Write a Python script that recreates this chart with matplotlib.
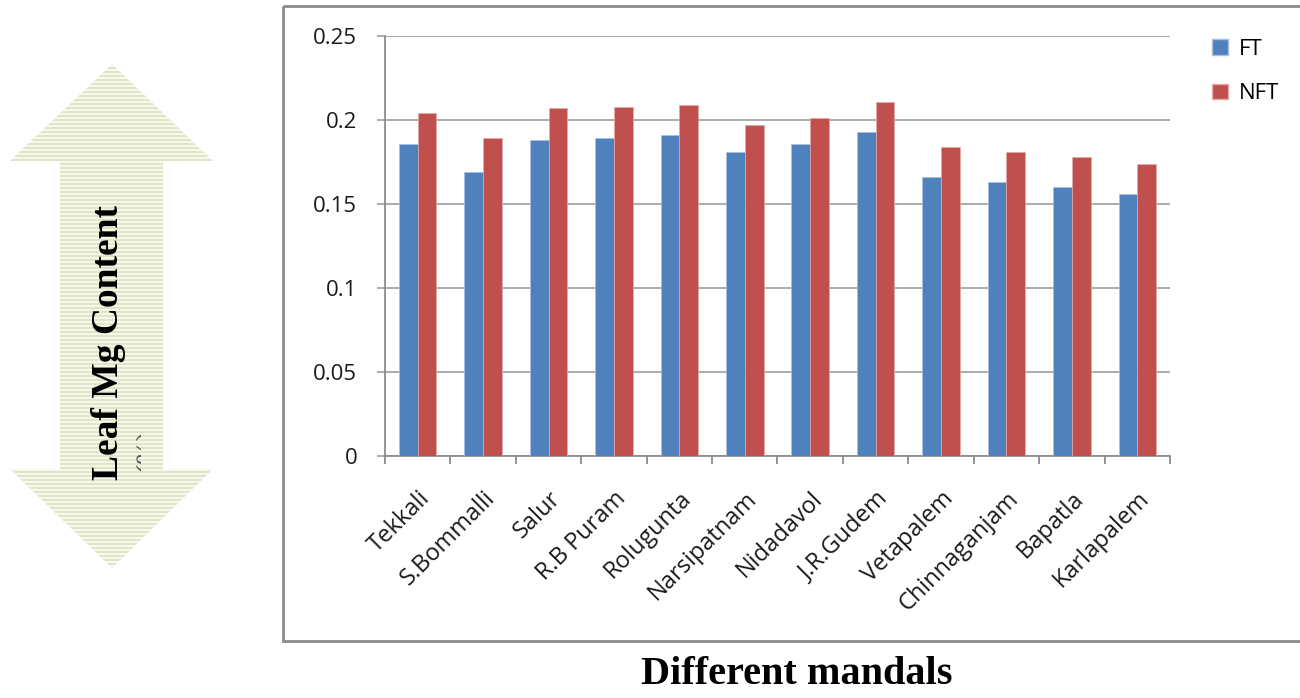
import numpy as np
import matplotlib.pyplot as plt
from matplotlib.patches import Polygon, Rectangle, Patch, PathPatch
from matplotlib.textpath import TextPath
from matplotlib.font_manager import FontProperties
from matplotlib.transforms import Affine2D, ScaledTranslation

mandals = ['Tekkali', 'S.Bommalli', 'Salur', 'R.B Puram', 'Rolugunta', 'Narsipatnam',
           'Nidadavol', 'J.R.Gudem', 'Vetapalem', 'Chinnaganjam', 'Bapatla', 'Karlapalem']
ft = [0.186, 0.169, 0.188, 0.189, 0.191, 0.181, 0.186, 0.193, 0.166, 0.163, 0.160, 0.156]
nft = [0.204, 0.189, 0.207, 0.208, 0.209, 0.197, 0.201, 0.211, 0.184, 0.181, 0.178, 0.174]
yticks = [0, 0.05, 0.1, 0.15, 0.2, 0.25]
ytick_labels = ['0', '0.05', '0.1', '0.15', '0.2', '0.25']

W, H = 1300, 698
fig = plt.figure(figsize=(W / 100, H / 100), dpi=100)

# overlay in pixel units for the frame, arrow and captions
deco = fig.add_axes([0, 0, 1, 1])
deco.set_xlim(0, W)
deco.set_ylim(H, 0)
deco.axis('off')

# outer chart frame
deco.add_patch(Rectangle((283, 6), 1040, 635, fill=False, edgecolor='#8c8c8c', linewidth=2))

# double-headed arrow with striped fill
arrow_pts = [(112, 64), (213, 161), (163, 161), (163, 469), (213, 469), (112, 568),
             (10, 469), (60, 469), (60, 161), (10, 161)]
arrow = Polygon(arrow_pts, closed=True, facecolor='#f6f8ee', edgecolor='none')
deco.add_patch(arrow)
for yy in np.arange(64, 570, 4):
    ln, = deco.plot([0, 230], [yy, yy], color='#dde5c2', linewidth=1.3)
    ln.set_clip_path(arrow)

deco.text(109, 342, 'Leaf Mg Content', rotation=90, ha='center', va='center',
          family='Liberation Serif', fontweight='bold', fontsize=27, color='black')

# unit label, mostly cut off; only the glyph tops show
tp = TextPath((0, 0), '(%)', size=28, prop=FontProperties(family='Liberation Serif'))
pct = PathPatch(tp, facecolor='#555555', edgecolor='none',
                transform=Affine2D().rotate_deg(90).translate(155, H - 474))
fig.add_artist(pct)
pct.set_clip_path(Rectangle((134, H - 490), 7, 100, transform=Affine2D()))

deco.text(797, 674, 'Different mandals', ha='center', va='center',
          family='Liberation Serif', fontweight='bold', fontsize=29, color='black')

# bar chart
ax = fig.add_axes([385 / W, 1 - 456 / H, 785 / W, 420 / H])
x = np.arange(len(mandals))
bw = 0.286
ax.bar(x - bw / 2, ft, bw, color='#4f81bd', edgecolor='#a9c0e0', linewidth=0.5, label='FT', zorder=3)
ax.bar(x + bw / 2, nft, bw, color='#c0504d', edgecolor='#e6aaa8', linewidth=0.5, label='NFT', zorder=3)

ax.set_xlim(-0.5, len(mandals) - 0.5)
ax.set_ylim(0, 0.25)
ax.set_yticks(yticks)
ax.set_yticklabels(ytick_labels, family='Open Sans', fontsize=16, color='#1a1a1a')
ax.yaxis.grid(True, color='#a6a6a6', linewidth=1.3, zorder=0)

ax.set_xticks(x)
ax.set_xticklabels(mandals, rotation=45, ha='right', rotation_mode='anchor',
                   family='Open Sans', fontsize=17, color='#1a1a1a')
# nudge the slanted labels a little to the left
shift = ScaledTranslation(-4 / 100, 0, fig.dpi_scale_trans)
for lbl in ax.get_xticklabels():
    lbl.set_transform(lbl.get_transform() + shift)
ax.set_xticks(np.arange(-0.5, len(mandals) + 0.5, 1), minor=True)
ax.tick_params(axis='x', which='major', length=0, pad=22)
ax.tick_params(axis='x', which='minor', length=6, width=1.3, color='#8c8c8c')
ax.tick_params(axis='y', length=6, width=1.3, color='#a6a6a6', pad=14)

for side in ['top', 'right']:
    ax.spines[side].set_visible(False)
for side in ['left', 'bottom']:
    ax.spines[side].set_color('#8c8c8c')
    ax.spines[side].set_linewidth(1.3)

handles = [Patch(facecolor='#4f81bd', edgecolor='#a9c0e0'), Patch(facecolor='#c0504d', edgecolor='#e6aaa8')]
fig.legend(handles, ['FT', 'NFT'], loc='upper left', bbox_to_anchor=(1192 / W, 1 - 19 / H),
           frameon=False, handlelength=0.7, handleheight=0.7, handletextpad=0.5,
           labelspacing=1.05, prop={'family': 'Open Sans', 'size': 16})

fig.savefig('out.png', dpi=100)
